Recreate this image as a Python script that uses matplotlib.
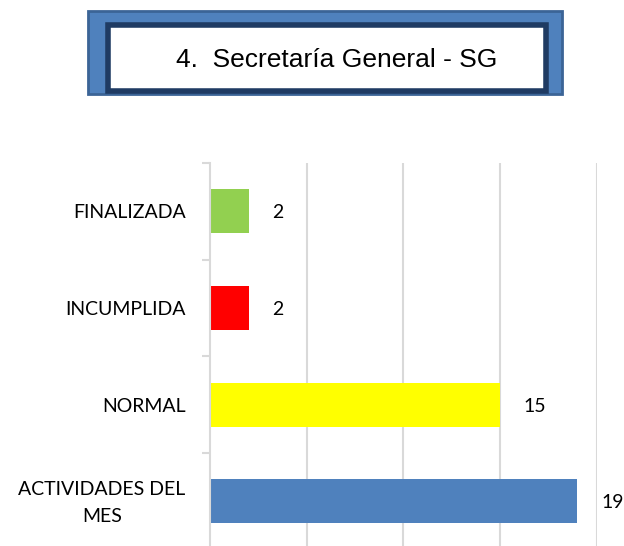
import matplotlib
matplotlib.use("Agg")
import matplotlib.pyplot as plt
from matplotlib.patches import Rectangle

categories = ["ACTIVIDADES DEL\nMES", "NORMAL", "INCUMPLIDA", "FINALIZADA"]
values = [19, 15, 2, 2]
colors = ["#4F81BD", "#FFFF00", "#FF0000", "#92D050"]
title = "4.  Secretaría General - SG"

W, H = 624, 546
fig = plt.figure(figsize=(W / 100, H / 100), dpi=100)

def px_rect(x0, y0, x1, y1, **kw):
    # pixel coords measured from top-left
    r = Rectangle((x0 / W, 1 - y1 / H), (x1 - x0) / W, (y1 - y0) / H,
                  transform=fig.transFigure, **kw)
    fig.patches.append(r)

# Title box
px_rect(88, 11, 562, 94, facecolor="#4F81BD", edgecolor="#3B6496", linewidth=2)
px_rect(108, 25, 546, 91, facecolor="white", edgecolor="#1F3B63", linewidth=4)

fig.text(337 / W, 1 - 60 / H, title, ha="center", va="center",
         fontsize=19, family="Liberation Sans", color="black")

ax = fig.add_axes([210 / W, 1 - 549.7 / H, (596.7 - 210) / W, (549.7 - 163) / H])
ypos = list(range(len(categories)))
ax.barh(ypos, values, height=0.455, color=colors, zorder=2)
ax.set_xlim(0, 20)
ax.set_ylim(-0.5, 3.5)

gc = "#D9D9D9"
ax.set_xticks([5, 10, 15, 20])
ax.xaxis.grid(True, color=gc, linewidth=1.5, zorder=0)
ax.tick_params(axis="x", length=0, labelbottom=False)
for s in ["top", "right", "bottom"]:
    ax.spines[s].set_visible(False)
ax.spines["left"].set_color(gc)
ax.spines["left"].set_linewidth(1.5)

ax.set_yticks(ypos)
ax.set_yticklabels([""] * len(categories))
ax.tick_params(axis="y", which="major", length=0)
ax.set_yticks([-0.5, 0.5, 1.5, 2.5, 3.5], minor=True)
ax.tick_params(axis="y", which="minor", length=6, width=1.5, color=gc)

for y, c in zip(ypos, categories):
    ax.annotate(c, (0, y), xytext=(-17.5, -1), textcoords="offset points",
                ha="right", va="center", multialignment="center",
                fontsize=14, family="Lato", linespacing=1.75, annotation_clip=False)

for y, v in zip(ypos, values):
    ax.annotate(str(v), (v, y), xytext=(17, -1), textcoords="offset points",
                ha="left", va="center", fontsize=14, family="Lato",
                bbox=dict(boxstyle="square,pad=0.15", fc="white", ec="none"),
                zorder=3)

fig.savefig("out.png", dpi=100)
